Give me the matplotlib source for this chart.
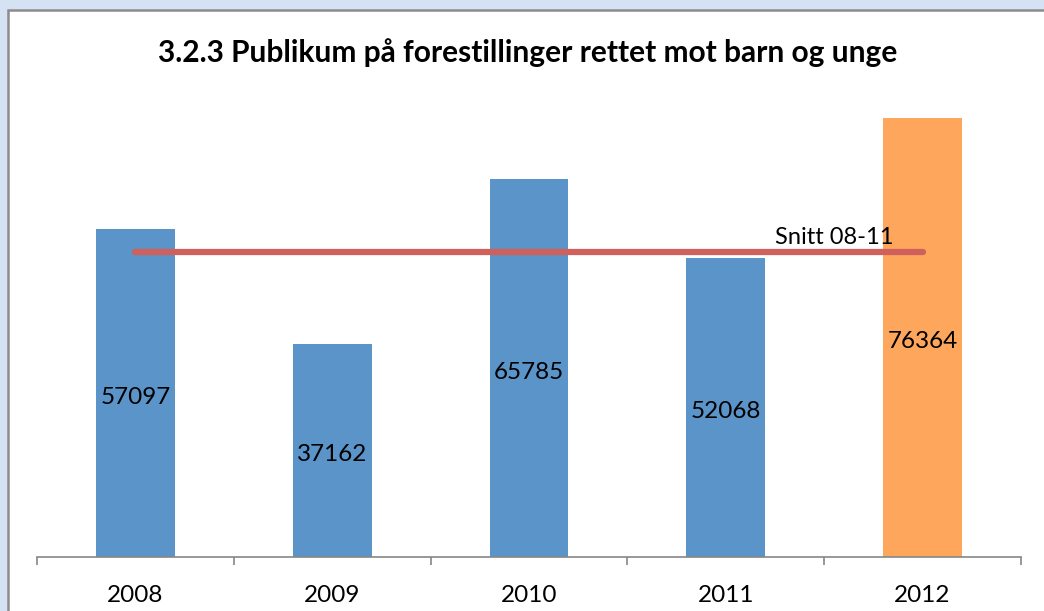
import matplotlib

matplotlib.use("Agg")

import matplotlib.pyplot as plt
from matplotlib.patches import Rectangle

years = ["2008", "2009", "2010", "2011", "2012"]
publikum = [57097, 37162, 65785, 52068, 76364]
bar_colors = ["#5B94C9", "#5B94C9", "#5B94C9", "#5B94C9", "#FDA65C"]
snitt = 53028  # snitt 2008-2011
snitt_label = "Snitt 08-11"
title = "3.2.3 Publikum på forestillinger rettet mot barn og unge"

plt.rcParams["font.family"] = ["Lato", "DejaVu Sans"]

W, H = 1044, 611
fig = plt.figure(figsize=(W / 100, H / 100), dpi=100)
fig.patch.set_facecolor("#D4E2F3")

# white chart panel with grey frame, cut off at right/bottom
bg = fig.add_axes([0, 0, 1, 1], zorder=-1)
bg.set_axis_off()
bg.set_xlim(0, 1)
bg.set_ylim(0, 1)
bg.add_patch(Rectangle((7.5 / W, -0.1), 1.2, 1 - 10.5 / H + 0.1,
                       facecolor="white", edgecolor="#8C8C8C", linewidth=1.8))

ax = fig.add_axes([37 / W, (H - 557) / H, (1021 - 37) / W, (557 - 97.4) / H])
ax.set_facecolor("none")

x = list(range(len(years)))
bars = ax.bar(x, publikum, width=0.4, color=bar_colors, zorder=2)
for xi, v in zip(x, publikum):
    ax.annotate(str(v), (xi, v / 2), xytext=(0, -3), textcoords="offset points",
                ha="center", va="center", fontsize=17.5, color="black", zorder=3)

ax.plot([x[0], x[-1]], [snitt, snitt], color="#D0605B", linewidth=4.5,
        solid_capstyle="round", zorder=4)
ax.annotate(snitt_label, (3.85, snitt), xytext=(0, 3), textcoords="offset points",
            ha="right", va="bottom", fontsize=17, zorder=5)

ax.set_xlim(-0.5, len(years) - 0.5)
ax.set_ylim(0, 80000)
ax.set_xticks(x)
ax.set_xticklabels(years, fontsize=17.5)
ax.set_xticks([i - 0.5 for i in range(len(years) + 1)], minor=True)
ax.tick_params(axis="x", which="major", length=0, pad=20)
ax.tick_params(axis="x", which="minor", length=6, width=1.2, color="#868686", direction="out")
ax.set_yticks([])
for side in ["top", "right", "left"]:
    ax.spines[side].set_visible(False)
ax.spines["bottom"].set_color("#868686")
ax.spines["bottom"].set_linewidth(1.2)

fig.text(528 / W, 1 - 53 / H, title, ha="center", va="center",
         fontsize=21.5, fontweight="bold")

fig.savefig("out.png", dpi=100)
